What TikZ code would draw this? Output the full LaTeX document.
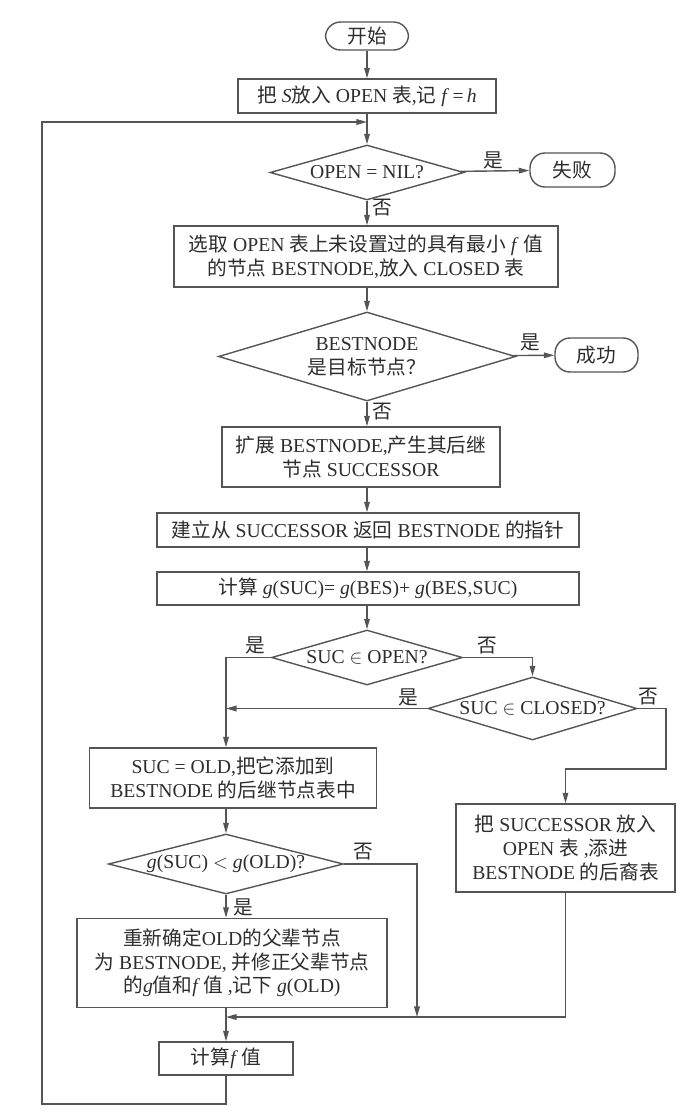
\documentclass[tikz,border=0pt]{standalone}
\usepackage{fontspec}
\setmainfont{Liberation Serif}
\newfontfamily\cjk{Noto Sans CJK SC}
\usetikzlibrary{positioning, shapes.geometric, arrows.meta, calc}
\newcommand{\zh}[1]{{\cjk #1}}

\begin{document}
\begin{tikzpicture}[x=0.02cm, y=-0.02cm, >={Triangle[length=6pt,width=3.2pt]}, font=\fontsize{11.2}{13.5}\selectfont, line width=0.8pt]
    \definecolor{ln}{RGB}{85, 85, 85} % Lines
    \definecolor{tx}{RGB}{45, 45, 45} % Text
    \tikzset{
        proc/.style={draw=ln, text=tx, rectangle, align=center, inner sep=2pt},
        term/.style={draw=ln, text=tx, rectangle, rounded corners=0.3cm, inner sep=2pt},
        decide/.style={draw=ln, text=tx, diamond, align=center, inner sep=0pt},
        flow/.style={draw=ln, ->},
        tag/.style={text=tx, inner sep=0pt}
    }
    \useasboundingbox (0,0) rectangle (698,1116);

    % Nodes
    \node[term, minimum width=1.66cm, minimum height=0.56cm] (start) at (367, 36) {\zh{开始}};
    \node[proc, minimum width=5.16cm, minimum height=0.68cm] (put) at (367, 96) {\zh{把} \textit{S}\zh{放入} OPEN \zh{表},\zh{记} \textit{f}\,=\,\textit{h}};
    \node[decide, shape aspect=3.5, minimum width=3.88cm, minimum height=1.1cm] (openq) at (367, 172.5) {OPEN = NIL?};
    \node[term, minimum width=1.7cm, minimum height=0.68cm] (fail) at (572.5, 170) {\zh{失败}};
    \node[proc, minimum width=7.68cm, minimum height=1.22cm] (select) at (366, 256.5) {\zh{选取} OPEN \zh{表上未设置过的具有最小} \textit{f} \zh{值}\\\zh{的节点} BESTNODE,\zh{放入} CLOSED \zh{表}};
    \node[decide, shape aspect=3.3, minimum width=5.94cm, minimum height=1.78cm] (goalq) at (367, 356.5) {BESTNODE\\\zh{是目标节点？}};
    \node[term, minimum width=1.66cm, minimum height=0.68cm] (succ) at (596.5, 355) {\zh{成功}};
    \node[proc, minimum width=5.56cm, minimum height=1.2cm] (expand) at (361, 457) {\zh{扩展} BESTNODE,\zh{产生其后继}\\\zh{节点} SUCCESSOR};
    \node[proc, minimum width=8.44cm, minimum height=0.68cm] (pointer) at (368, 530) {\zh{建立从} SUCCESSOR \zh{返回} BESTNODE \zh{的指针}};
    \node[proc, minimum width=8.44cm, minimum height=0.66cm] (calc) at (368, 588.5) {\zh{计算} \textit{g}(SUC)= \textit{g}(BES)+ \textit{g}(BES,SUC)};
    \node[decide, shape aspect=3.5, minimum width=3.82cm, minimum height=1.1cm] (inopen) at (367, 657.5) {SUC $\in$ OPEN?};
    \node[decide, shape aspect=3.3, minimum width=4.18cm, minimum height=1.26cm] (inclosed) at (532.5, 708.5) {SUC $\in$ CLOSED?};
    \node[proc, minimum width=5.74cm, minimum height=1.2cm] (old) at (233, 778) {SUC = OLD,\zh{把它添加到}\\BESTNODE \zh{的后继节点表中}};
    \node[proc, minimum width=4.38cm, minimum height=1.76cm] (addopen) at (565.5, 848) {\zh{把} SUCCESSOR \zh{放入}\\OPEN \zh{表} ,\zh{添进}\\BESTNODE \zh{的后裔表}};
    \node[decide, shape aspect=3.9, minimum width=4.7cm, minimum height=1.2cm] (ltq) at (226, 864) {\textit{g}(SUC) $<$ \textit{g}(OLD)?};
    \node[proc, minimum width=6.2cm, minimum height=1.78cm] (reset) at (232, 963) {\zh{重新确定}OLD\zh{的父辈节点}\\\zh{为} BESTNODE, \zh{并修正父辈节点}\\\zh{的}\textit{g}\zh{值和}\textit{f}\,\zh{值} ,\zh{记下} \textit{g}(OLD)};
    \node[proc, minimum width=2.68cm, minimum height=0.66cm] (calcf) at (226, 1058.5) {\zh{计算}\textit{f}\,\zh{值}};

    % Helper points
    \coordinate (entry) at (367, 122);
    \coordinate (bend) at (666, 769);
    \coordinate (merge) at (226, 1017);
    \coordinate (drop) at (417, 1017);
    \coordinate (back) at (42, 1104);

    % Main flow
    \draw[flow] (start) -- (put);
    \draw[flow] (put) -- (openq);
    \draw[flow] (openq) -- (fail);
    \draw[flow] (openq.south) -- (openq.south |- select.north);
    \draw[flow] (openq.south |- select.south) -- (goalq.north);
    \draw[flow] (goalq) -- (succ);
    \draw[flow] (goalq.south) -- (goalq.south |- expand.north);
    \draw[flow] (goalq.south |- expand.south) -- (goalq.south |- pointer.north);
    \draw[flow] (goalq.south |- pointer.south) -- (goalq.south |- calc.north);
    \draw[flow] (goalq.south |- calc.south) -- (inopen.north);

    % Branches
    \draw[flow] (inopen.west) -| (old.north -| merge);
    \draw[flow] (inopen.east) -| (inclosed.north);
    \draw[flow] (inclosed.west) -- (inclosed.west -| merge);
    \draw[flow] (inclosed.east) -| (bend) -| (addopen.north);
    \draw[flow] (old.south -| merge) -- (ltq.north);
    \draw[flow] (ltq.south) -- (reset.north -| merge);
    \draw[flow] (ltq.east) -| (drop);
    \draw[flow] (addopen.south) |- (merge);
    \draw[flow] (reset.south -| merge) -- (calcf.north);
    \draw[flow] (calcf.south) |- (back) |- (entry);

    % Labels
    \node[tag] (y1) at (493, 160) {\zh{是}};
    \node[tag] (n1) at (382, 208) {\zh{否}};
    \node[tag] (y2) at (530, 342) {\zh{是}};
    \node[tag] (n2) at (382, 412) {\zh{否}};
    \node[tag] (y3) at (255, 645) {\zh{是}};
    \node[tag] (n3) at (487, 646) {\zh{否}};
    \node[tag] (y4) at (408, 697) {\zh{是}};
    \node[tag] (n4) at (648, 697) {\zh{否}};
    \node[tag] (n5) at (363, 852) {\zh{否}};
    \node[tag] (y5) at (243, 907) {\zh{是}};
\end{tikzpicture}
\end{document}
